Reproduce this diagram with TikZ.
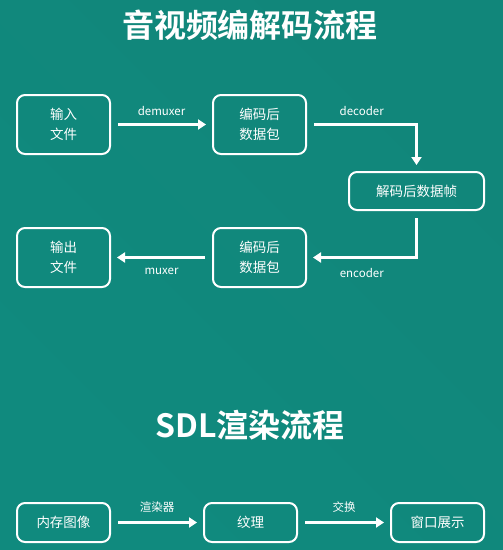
\documentclass[tikz,border=0pt]{standalone}
\usepackage{fontspec}
\usepackage{xcolor}
\usepackage{tikz}
\usetikzlibrary{arrows.meta}
\setmainfont{Noto Sans CJK SC}
\newfontfamily\cjkbold{Noto Sans CJK SC Bold}
\definecolor{bgteal}{RGB}{17,134,122}
\definecolor{bglight}{RGB}{16,138,126}

\begin{document}
\begin{tikzpicture}[x=1pt, y=1pt,
  box/.style={draw=white, line width=2pt, rounded corners=8pt, text=white,
    font=\fontsize{13.5}{20}\selectfont, align=center, inner sep=0pt},
  flow/.style={white, line width=3pt, -{Triangle[length=8pt, width=10pt]},
    shorten <=7pt, shorten >=6pt},
  lbl/.style={text=white, font=\fontsize{11.5}{14}\selectfont},
  title/.style={text=white, font=\cjkbold\fontsize{32}{36}\selectfont}]
  \useasboundingbox (0,0) rectangle (503,-550);
  \shade[left color=bglight, right color=bgteal, shading angle=135] (0,0) rectangle (503,-550);
  % codec flow
  \node[title] (t1) at (250,-25) {音视频编解码流程};
  \node[box, minimum width=93pt, minimum height=59pt] (infile) at (63.5,-124.5) {输入\\文件};
  \node[box, minimum width=93pt, minimum height=59pt] (pkta) at (259.5,-124.5) {编码后\\数据包};
  \node[box, minimum width=135pt, minimum height=38pt] (frame) at (416.5,-191) {解码后数据帧};
  \node[box, minimum width=93pt, minimum height=59pt] (pktb) at (259.5,-257.5) {编码后\\数据包};
  \node[box, minimum width=93pt, minimum height=59pt] (outfile) at (63.5,-257.5) {输出\\文件};
  \draw[flow] (infile) -- node[lbl, above=4pt] {demuxer} (pkta);
  \draw[flow] (pkta.east) -| node[lbl, pos=0.25, above=4pt] {decoder} (frame.north);
  \draw[flow] (frame.south) |- node[lbl, pos=0.75, below=6pt] {encoder} (pktb.east);
  \draw[flow] (pktb) -- node[lbl, below=6pt] {muxer} (outfile);
  % sdl flow
  \node[title] (t2) at (250,-425) {SDL渲染流程};
  \node[box, minimum width=93pt, minimum height=39pt] (mem) at (63.5,-522.5) {内存图像};
  \node[box, minimum width=93pt, minimum height=39pt] (tex) at (250.5,-522.5) {纹理};
  \node[box, minimum width=93pt, minimum height=39pt] (win) at (437.5,-522.5) {窗口展示};
  \draw[flow] (mem) -- node[lbl, above=5pt] {渲染器} (tex);
  \draw[flow] (tex) -- node[lbl, above=5pt] {交换} (win);
\end{tikzpicture}
\end{document}
